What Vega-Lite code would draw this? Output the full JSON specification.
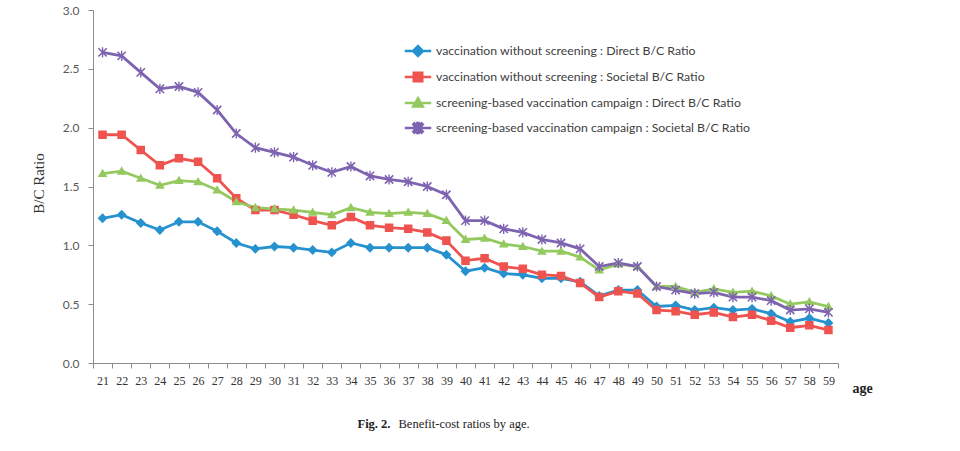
{
  "$schema": "https://vega.github.io/schema/vega-lite/v6.json",
  "width": 745,
  "height": 353,
  "autosize": "none",
  "padding": {"left": 93, "top": 10, "right": 122, "bottom": 88},
  "background": "white",
  "config": {"view": {"stroke": null}},
  "data": {"values": [
    {"age":21,"vaccination without screening : Direct B/C Ratio":1.23,"vaccination without screening : Societal B/C Ratio":1.94,"screening-based vaccination campaign : Direct B/C Ratio":1.61,"screening-based vaccination campaign : Societal B/C Ratio":2.64},
    {"age":22,"vaccination without screening : Direct B/C Ratio":1.26,"vaccination without screening : Societal B/C Ratio":1.94,"screening-based vaccination campaign : Direct B/C Ratio":1.63,"screening-based vaccination campaign : Societal B/C Ratio":2.61},
    {"age":23,"vaccination without screening : Direct B/C Ratio":1.19,"vaccination without screening : Societal B/C Ratio":1.81,"screening-based vaccination campaign : Direct B/C Ratio":1.57,"screening-based vaccination campaign : Societal B/C Ratio":2.47},
    {"age":24,"vaccination without screening : Direct B/C Ratio":1.13,"vaccination without screening : Societal B/C Ratio":1.68,"screening-based vaccination campaign : Direct B/C Ratio":1.51,"screening-based vaccination campaign : Societal B/C Ratio":2.33},
    {"age":25,"vaccination without screening : Direct B/C Ratio":1.20,"vaccination without screening : Societal B/C Ratio":1.74,"screening-based vaccination campaign : Direct B/C Ratio":1.55,"screening-based vaccination campaign : Societal B/C Ratio":2.35},
    {"age":26,"vaccination without screening : Direct B/C Ratio":1.20,"vaccination without screening : Societal B/C Ratio":1.71,"screening-based vaccination campaign : Direct B/C Ratio":1.54,"screening-based vaccination campaign : Societal B/C Ratio":2.30},
    {"age":27,"vaccination without screening : Direct B/C Ratio":1.12,"vaccination without screening : Societal B/C Ratio":1.57,"screening-based vaccination campaign : Direct B/C Ratio":1.47,"screening-based vaccination campaign : Societal B/C Ratio":2.15},
    {"age":28,"vaccination without screening : Direct B/C Ratio":1.02,"vaccination without screening : Societal B/C Ratio":1.40,"screening-based vaccination campaign : Direct B/C Ratio":1.37,"screening-based vaccination campaign : Societal B/C Ratio":1.95},
    {"age":29,"vaccination without screening : Direct B/C Ratio":0.97,"vaccination without screening : Societal B/C Ratio":1.30,"screening-based vaccination campaign : Direct B/C Ratio":1.32,"screening-based vaccination campaign : Societal B/C Ratio":1.83},
    {"age":30,"vaccination without screening : Direct B/C Ratio":0.99,"vaccination without screening : Societal B/C Ratio":1.30,"screening-based vaccination campaign : Direct B/C Ratio":1.31,"screening-based vaccination campaign : Societal B/C Ratio":1.79},
    {"age":31,"vaccination without screening : Direct B/C Ratio":0.98,"vaccination without screening : Societal B/C Ratio":1.26,"screening-based vaccination campaign : Direct B/C Ratio":1.30,"screening-based vaccination campaign : Societal B/C Ratio":1.75},
    {"age":32,"vaccination without screening : Direct B/C Ratio":0.96,"vaccination without screening : Societal B/C Ratio":1.21,"screening-based vaccination campaign : Direct B/C Ratio":1.28,"screening-based vaccination campaign : Societal B/C Ratio":1.68},
    {"age":33,"vaccination without screening : Direct B/C Ratio":0.94,"vaccination without screening : Societal B/C Ratio":1.17,"screening-based vaccination campaign : Direct B/C Ratio":1.26,"screening-based vaccination campaign : Societal B/C Ratio":1.62},
    {"age":34,"vaccination without screening : Direct B/C Ratio":1.02,"vaccination without screening : Societal B/C Ratio":1.24,"screening-based vaccination campaign : Direct B/C Ratio":1.32,"screening-based vaccination campaign : Societal B/C Ratio":1.67},
    {"age":35,"vaccination without screening : Direct B/C Ratio":0.98,"vaccination without screening : Societal B/C Ratio":1.17,"screening-based vaccination campaign : Direct B/C Ratio":1.28,"screening-based vaccination campaign : Societal B/C Ratio":1.59},
    {"age":36,"vaccination without screening : Direct B/C Ratio":0.98,"vaccination without screening : Societal B/C Ratio":1.15,"screening-based vaccination campaign : Direct B/C Ratio":1.27,"screening-based vaccination campaign : Societal B/C Ratio":1.56},
    {"age":37,"vaccination without screening : Direct B/C Ratio":0.98,"vaccination without screening : Societal B/C Ratio":1.14,"screening-based vaccination campaign : Direct B/C Ratio":1.28,"screening-based vaccination campaign : Societal B/C Ratio":1.54},
    {"age":38,"vaccination without screening : Direct B/C Ratio":0.98,"vaccination without screening : Societal B/C Ratio":1.11,"screening-based vaccination campaign : Direct B/C Ratio":1.27,"screening-based vaccination campaign : Societal B/C Ratio":1.50},
    {"age":39,"vaccination without screening : Direct B/C Ratio":0.92,"vaccination without screening : Societal B/C Ratio":1.04,"screening-based vaccination campaign : Direct B/C Ratio":1.21,"screening-based vaccination campaign : Societal B/C Ratio":1.43},
    {"age":40,"vaccination without screening : Direct B/C Ratio":0.78,"vaccination without screening : Societal B/C Ratio":0.87,"screening-based vaccination campaign : Direct B/C Ratio":1.05,"screening-based vaccination campaign : Societal B/C Ratio":1.21},
    {"age":41,"vaccination without screening : Direct B/C Ratio":0.81,"vaccination without screening : Societal B/C Ratio":0.89,"screening-based vaccination campaign : Direct B/C Ratio":1.06,"screening-based vaccination campaign : Societal B/C Ratio":1.21},
    {"age":42,"vaccination without screening : Direct B/C Ratio":0.76,"vaccination without screening : Societal B/C Ratio":0.82,"screening-based vaccination campaign : Direct B/C Ratio":1.01,"screening-based vaccination campaign : Societal B/C Ratio":1.14},
    {"age":43,"vaccination without screening : Direct B/C Ratio":0.75,"vaccination without screening : Societal B/C Ratio":0.80,"screening-based vaccination campaign : Direct B/C Ratio":0.99,"screening-based vaccination campaign : Societal B/C Ratio":1.11},
    {"age":44,"vaccination without screening : Direct B/C Ratio":0.72,"vaccination without screening : Societal B/C Ratio":0.75,"screening-based vaccination campaign : Direct B/C Ratio":0.95,"screening-based vaccination campaign : Societal B/C Ratio":1.05},
    {"age":45,"vaccination without screening : Direct B/C Ratio":0.72,"vaccination without screening : Societal B/C Ratio":0.74,"screening-based vaccination campaign : Direct B/C Ratio":0.95,"screening-based vaccination campaign : Societal B/C Ratio":1.02},
    {"age":46,"vaccination without screening : Direct B/C Ratio":0.69,"vaccination without screening : Societal B/C Ratio":0.68,"screening-based vaccination campaign : Direct B/C Ratio":0.90,"screening-based vaccination campaign : Societal B/C Ratio":0.97},
    {"age":47,"vaccination without screening : Direct B/C Ratio":0.57,"vaccination without screening : Societal B/C Ratio":0.56,"screening-based vaccination campaign : Direct B/C Ratio":0.79,"screening-based vaccination campaign : Societal B/C Ratio":0.82},
    {"age":48,"vaccination without screening : Direct B/C Ratio":0.62,"vaccination without screening : Societal B/C Ratio":0.61,"screening-based vaccination campaign : Direct B/C Ratio":0.84,"screening-based vaccination campaign : Societal B/C Ratio":0.85},
    {"age":49,"vaccination without screening : Direct B/C Ratio":0.62,"vaccination without screening : Societal B/C Ratio":0.59,"screening-based vaccination campaign : Direct B/C Ratio":0.82,"screening-based vaccination campaign : Societal B/C Ratio":0.82},
    {"age":50,"vaccination without screening : Direct B/C Ratio":0.48,"vaccination without screening : Societal B/C Ratio":0.45,"screening-based vaccination campaign : Direct B/C Ratio":0.65,"screening-based vaccination campaign : Societal B/C Ratio":0.65},
    {"age":51,"vaccination without screening : Direct B/C Ratio":0.49,"vaccination without screening : Societal B/C Ratio":0.44,"screening-based vaccination campaign : Direct B/C Ratio":0.65,"screening-based vaccination campaign : Societal B/C Ratio":0.62},
    {"age":52,"vaccination without screening : Direct B/C Ratio":0.45,"vaccination without screening : Societal B/C Ratio":0.41,"screening-based vaccination campaign : Direct B/C Ratio":0.60,"screening-based vaccination campaign : Societal B/C Ratio":0.59},
    {"age":53,"vaccination without screening : Direct B/C Ratio":0.47,"vaccination without screening : Societal B/C Ratio":0.43,"screening-based vaccination campaign : Direct B/C Ratio":0.63,"screening-based vaccination campaign : Societal B/C Ratio":0.60},
    {"age":54,"vaccination without screening : Direct B/C Ratio":0.45,"vaccination without screening : Societal B/C Ratio":0.39,"screening-based vaccination campaign : Direct B/C Ratio":0.60,"screening-based vaccination campaign : Societal B/C Ratio":0.56},
    {"age":55,"vaccination without screening : Direct B/C Ratio":0.46,"vaccination without screening : Societal B/C Ratio":0.41,"screening-based vaccination campaign : Direct B/C Ratio":0.61,"screening-based vaccination campaign : Societal B/C Ratio":0.56},
    {"age":56,"vaccination without screening : Direct B/C Ratio":0.42,"vaccination without screening : Societal B/C Ratio":0.36,"screening-based vaccination campaign : Direct B/C Ratio":0.57,"screening-based vaccination campaign : Societal B/C Ratio":0.53},
    {"age":57,"vaccination without screening : Direct B/C Ratio":0.35,"vaccination without screening : Societal B/C Ratio":0.30,"screening-based vaccination campaign : Direct B/C Ratio":0.50,"screening-based vaccination campaign : Societal B/C Ratio":0.45},
    {"age":58,"vaccination without screening : Direct B/C Ratio":0.38,"vaccination without screening : Societal B/C Ratio":0.32,"screening-based vaccination campaign : Direct B/C Ratio":0.52,"screening-based vaccination campaign : Societal B/C Ratio":0.46},
    {"age":59,"vaccination without screening : Direct B/C Ratio":0.34,"vaccination without screening : Societal B/C Ratio":0.28,"screening-based vaccination campaign : Direct B/C Ratio":0.48,"screening-based vaccination campaign : Societal B/C Ratio":0.43}
  ]},
  "transform": [
    {"fold": ["vaccination without screening : Direct B/C Ratio", "vaccination without screening : Societal B/C Ratio", "screening-based vaccination campaign : Direct B/C Ratio", "screening-based vaccination campaign : Societal B/C Ratio"], "as": ["series", "value"]}
  ],
  "layer": [
    {
      "mark": {"type": "line", "strokeWidth": 2.8},
      "encoding": {
        "x": {"field": "age", "type": "ordinal", "scale": {"paddingInner": 0, "paddingOuter": 0},
          "axis": {"title": "age", "titleFont": "Liberation Serif", "titleFontSize": 14, "titleFontWeight": "bold", "titleColor": "#222222",
            "titleX": 769, "titleY": 25, "titleAlign": "center", "titleBaseline": "middle", "titleAngle": 0,
            "labelAngle": 0, "labelFont": "Liberation Serif", "labelFontSize": 12, "labelColor": "#333333", "labelPadding": 7,
            "tickBand": "extent", "tickSize": 5, "tickColor": "#8c8c8c", "domainColor": "#8c8c8c", "grid": false}},
        "y": {"field": "value", "type": "quantitative", "scale": {"domain": [0, 3], "nice": false},
          "axis": {"values": [0, 0.5, 1, 1.5, 2, 2.5, 3], "format": ".1f", "labelFont": "Lato", "labelFontSize": 12, "labelColor": "#595959", "labelPadding": 9,
            "tickSize": 5, "tickColor": "#8c8c8c", "domainColor": "#8c8c8c", "grid": false,
            "title": "B/C Ratio", "titleFont": "Liberation Serif", "titleFontSize": 15, "titleFontWeight": "normal", "titleColor": "#333333",
            "titleX": -55, "titleY": 173, "titleAngle": -90, "titleAlign": "center", "titleBaseline": "middle"}},
        "color": {"field": "series", "type": "nominal",
          "scale": {"domain": ["vaccination without screening : Direct B/C Ratio", "vaccination without screening : Societal B/C Ratio", "screening-based vaccination campaign : Direct B/C Ratio", "screening-based vaccination campaign : Societal B/C Ratio"],
            "range": ["#2592cf", "#ef5350", "#93c95f", "#7e64b0"]},
          "legend": {"orient": "none", "legendX": 312, "legendY": 28, "title": null, "direction": "vertical", "columns": 1, "padding": 0,
            "symbolSize": 529, "symbolStrokeWidth": 2.5, "rowPadding": 3,
            "labelFont": "Lato", "labelFontSize": 12.3, "labelColor": "#404040", "labelOffset": 5, "labelLimit": 400,
            "encode": {"symbols": {"update": {"fill": {"scale": "color", "field": "value"}, "stroke": {"scale": "color", "field": "value"}, "strokeWidth": {"value": 2.5}, "opacity": {"value": 1}}}}}}
      }
    },
    {
      "mark": {"type": "point", "filled": true, "size": 529, "strokeWidth": 0, "opacity": 1},
      "encoding": {
        "x": {"field": "age", "type": "ordinal",
          "axis": {"orient": "bottom", "domain": false, "ticks": false, "labels": false, "grid": false,
            "title": "Fig. 2.", "titleFont": "Liberation Serif", "titleFontSize": 12.5, "titleFontWeight": "bold", "titleColor": "#222222",
            "titleX": 264, "titleY": 60, "titleAlign": "left", "titleBaseline": "middle", "titleAngle": 0}},
        "y": {"field": "value", "type": "quantitative",
          "axis": {"orient": "left", "domain": false, "ticks": false, "labels": false, "grid": false,
            "title": "Benefit-cost ratios by age.", "titleFont": "Liberation Serif", "titleFontSize": 12.5, "titleFontWeight": "normal", "titleColor": "#222222",
            "titleX": 305, "titleY": 413, "titleAlign": "left", "titleBaseline": "middle", "titleAngle": 0}},
        "color": {"field": "series", "type": "nominal"},
        "shape": {"field": "series", "type": "nominal",
          "scale": {"domain": ["vaccination without screening : Direct B/C Ratio", "vaccination without screening : Societal B/C Ratio", "screening-based vaccination campaign : Direct B/C Ratio", "screening-based vaccination campaign : Societal B/C Ratio"],
            "range": [
              "M-1.15,0H1.15M0,-0.43L0.43,0L0,0.43L-0.43,0Z",
              "M-1.15,0H1.15M-0.37,-0.37H0.37V0.37H-0.37Z",
              "M-1.15,0H1.15M0,-0.42L0.42,0.3H-0.42Z",
              "M-1.15,0H1.15M-0.06,-0.44H0.06V0.44H-0.06ZM-0.31,-0.41L0.41,0.31L0.31,0.41L-0.41,-0.31ZM-0.41,0.31L0.31,-0.41L0.41,-0.31L-0.31,0.41Z"
            ]}}
      }
    }
  ],
  "resolve": {"axis": {"x": "independent", "y": "independent"}}
}
